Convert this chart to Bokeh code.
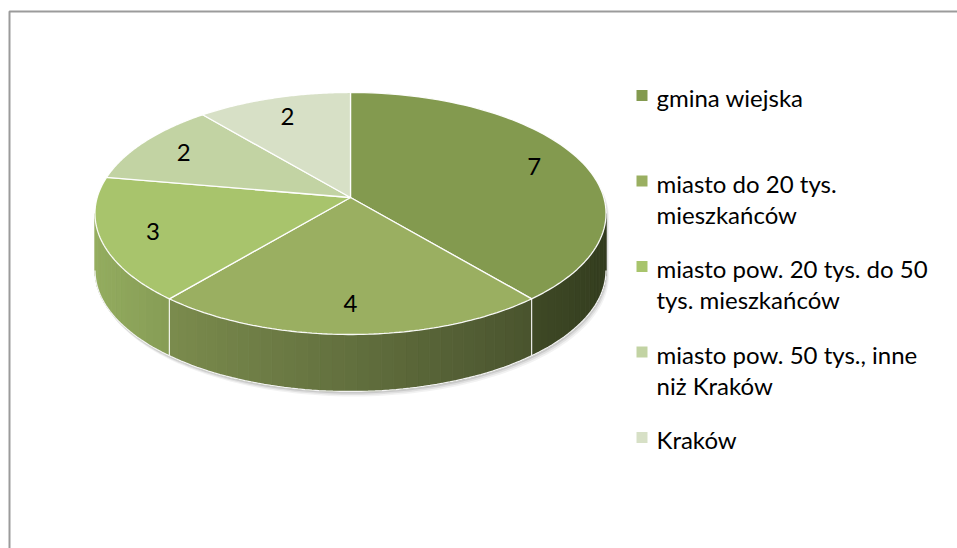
import numpy as np
from bokeh.plotting import figure
from bokeh.models import Range1d
from bokeh.embed import file_html
from bokeh.resources import INLINE
from bokeh.core.properties import value

# ---------------- data ----------------
categories = [
    "gmina wiejska",
    "miasto do 20 tys. mieszkańców",
    "miasto pow. 20 tys. do 50 tys. mieszkańców",
    "miasto pow. 50 tys., inne niż Kraków",
    "Kraków",
]
legend_lines = [
    ["gmina wiejska"],
    ["miasto do 20 tys.", "mieszkańców"],
    ["miasto pow. 20 tys. do 50", "tys. mieszkańców"],
    ["miasto pow. 50 tys., inne", "niż Kraków"],
    ["Kraków"],
]
counts = [7, 4, 3, 2, 2]
palette = ["#839A4F", "#9AAF61", "#A8C46C", "#C2D3A3", "#D7E0C6"]

# ---------------- geometry (3D pie with perspective) ----------------
CX, CY = 350.0, 197.0
A, B, K = 253.3, 118.9, 0.132
DEPTH = 57.0
FONT = value("Lato")
W, H = 957, 548


def proj(theta_deg, r=1.0, dz=0.0):
    t = np.radians(np.asarray(theta_deg, dtype=float))
    u = r * np.sin(t)
    v = r * np.cos(t)
    w = 1.0 + K * v
    return CX + A * u / w, CY - B * v / w + dz


def shade(hexcol, f):
    h = hexcol.lstrip("#")
    rgb = np.array([int(h[i:i + 2], 16) for i in (0, 2, 4)], dtype=float)
    rgb = np.clip(rgb * f, 0, 255).astype(int)
    return "#%02x%02x%02x" % tuple(rgb)


vals = np.array(counts, dtype=float)
ends = np.cumsum(vals) / vals.sum() * 360.0
starts = np.concatenate([[0.0], ends[:-1]])

th_min = np.degrees(np.arccos(-K))
th_max = 360.0 - th_min

p = figure(width=W, height=H, x_range=Range1d(0, W), y_range=Range1d(H, 0),
           output_backend="svg", toolbar_location=None, min_border=0,
           x_axis_type=None, y_axis_type=None)
p.grid.visible = False
p.outline_line_color = None
p.background_fill_color = "white"
p.border_fill_color = "white"

# chart frame
p.line(x=[9, 9, W + 2], y=[H + 2, 11, 11], line_color="#9B9B9B", line_width=2)

# ---------------- shadow ----------------
back = np.linspace(th_max, 360.0 + th_min, 120)
front = np.linspace(th_min, th_max, 120)
bx, by = proj(back)
fx, fy = proj(front, dz=DEPTH)
sil_x = np.concatenate([bx, fx])
sil_y = np.concatenate([by, fy])
for off, a in [((3.0, 5.0), 0.05), ((2.0, 3.5), 0.07), ((1.0, 2.0), 0.10)]:
    p.patch(sil_x + off[0], sil_y + off[1], fill_color="#000000", fill_alpha=a, line_color=None)

# ---------------- sides ----------------
side_xs, side_ys, side_cols = [], [], []
for s, e, col in zip(starts, ends, palette):
    a0, a1 = max(s, th_min), min(e, th_max)
    if a1 <= a0:
        continue
    n = max(2, int(np.ceil((a1 - a0) / 2.5)))
    grid = np.linspace(a0, a1, n + 1)
    for ta, tb in zip(grid[:-1], grid[1:]):
        xa, ya = proj(ta)
        xb, yb = proj(tb)
        xa2, ya2 = proj(ta, dz=DEPTH)
        xb2, yb2 = proj(tb, dz=DEPTH)
        side_xs.append([xa, xb, xb2, xa2])
        side_ys.append([ya, yb, yb2, ya2])
        tm = np.radians(0.5 * (ta + tb))
        f = 0.64 - 0.25 * np.sin(tm)
        side_cols.append(shade(col, f))
p.patches(side_xs, side_ys, fill_color=side_cols, line_color=side_cols, line_width=0.8)

# side seams and bottom rim
for b in starts:
    bb = b % 360.0
    if th_min < bb < th_max:
        x0, y0 = proj(bb)
        x1, y1 = proj(bb, dz=DEPTH)
        p.line([x0, x1], [y0, y1], line_color="white", line_width=1.2, line_alpha=0.9)
p.line(fx, fy, line_color="#F2F2F2", line_width=1.3)

# ---------------- top face ----------------
top_xs, top_ys = [], []
for s, e in zip(starts, ends):
    th = np.linspace(s, e, 80)
    x, y = proj(th)
    top_xs.append(np.concatenate([[CX], x]))
    top_ys.append(np.concatenate([[CY], y]))
p.patches(top_xs, top_ys, fill_color=palette, line_color="white", line_width=1.3, line_alpha=0.95)

# data labels
mid = 0.5 * (starts + ends)
lx, ly = proj(mid, r=0.8)
p.text(x=lx, y=ly, text=[str(c) for c in counts], text_font=FONT, text_font_size="24px",
       text_align="center", text_baseline="middle", text_color="black")

# ---------------- legend ----------------
LX_SQ, LX_TX, LY0, LSTEP = 641.5, 656.0, 95.0, 85.5
sq_y = [LY0 + LSTEP * i for i in range(len(categories))]
p.scatter(x=[LX_SQ] * len(categories), y=sq_y, marker="square", size=11,
          fill_color=palette, line_color=None)
tx, ty, tt = [], [], []
for i, lines in enumerate(legend_lines):
    for j, ln in enumerate(lines):
        tx.append(LX_TX)
        ty.append(sq_y[i] + 2 + 31 * j)
        tt.append(ln)
p.text(x=tx, y=ty, text=tt, text_font=FONT, text_font_size="24px",
       text_align="left", text_baseline="middle", text_color="black")

open("out.html", "w").write(file_html(p, INLINE))
